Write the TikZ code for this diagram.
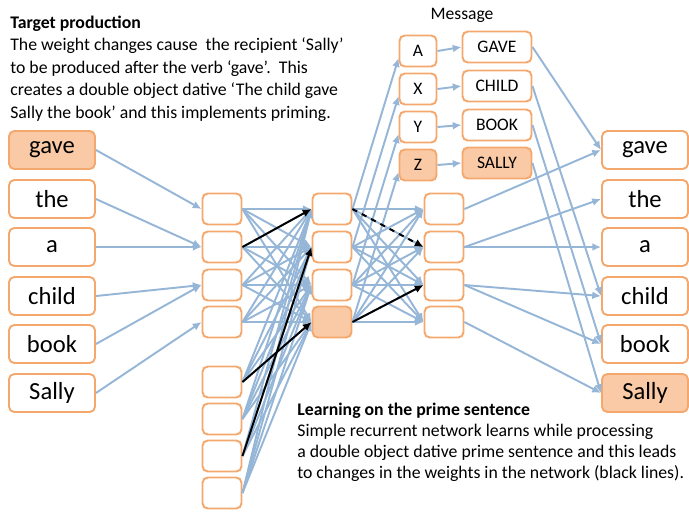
\documentclass[tikz,border=0pt]{standalone}
\usepackage{fontspec}
\setmainfont{Carlito}
\usepackage{xcolor}
\usetikzlibrary{arrows.meta, positioning}

\definecolor{boxline}{RGB}{245,168,110}
\definecolor{boxfill}{RGB}{250,201,165}
\definecolor{linkblue}{RGB}{150,182,215}

\begin{document}
\begin{tikzpicture}[x=0.02cm, y=-0.02cm,
        unit/.style={rectangle, draw=boxline, line width=1.1pt, rounded corners=3pt, fill=white, inner sep=0pt},
        word/.style={unit, minimum width=1.72cm, minimum height=0.76cm, font=\fontsize{14}{14}\selectfont},
        hid/.style={unit, minimum width=0.78cm, minimum height=0.62cm},
        msg/.style={unit, minimum height=0.62cm, font=\fontsize{10}{10}\selectfont},
        on/.style={fill=boxfill},
        note/.style={align=left, anchor=base west, inner sep=0pt},
        link/.style={draw=linkblue, line width=1.1pt, -{Latex[length=5pt,width=4.5pt]}},
        wlink/.style={black, line width=1.1pt, -{Latex[length=5pt,width=4.5pt]}}]

    \useasboundingbox (0,0) rectangle (689,512);

    % input words
    \node[word, on] (in1) at (52,150) {gave};
    \node[word] (in2) at (52,199) {the};
    \node[word] (in3) at (52,247) {a};
    \node[word] (in4) at (52,296) {child};
    \node[word] (in5) at (52,344) {book};
    \node[word] (in6) at (52,393) {Sally};

    % output words
    \node[word] (out1) at (645,150) {gave};
    \node[word] (out2) at (645,199) {the};
    \node[word] (out3) at (645,247) {a};
    \node[word] (out4) at (645,296) {child};
    \node[word] (out5) at (645,344) {book};
    \node[word, on] (out6) at (645,393) {Sally};

    % hidden layers and context
    \foreach \i/\y/\c in {1/209/white, 2/247/white, 3/285/white, 4/322/boxfill} {
        \node[hid] (ha\i) at (222,\y) {};
        \node[hid, fill=\c] (hb\i) at (332,\y) {};
        \node[hid] (hc\i) at (444,\y) {};
    }
    \foreach \i/\y in {1/382, 2/419, 3/456, 4/493}
        \node[hid] (ctx\i) at (222,\y) {};

    % message
    \node[font=\fontsize{10}{10}\selectfont] (msglabel) at (462,15) {Message};
    \node[msg, minimum width=0.74cm] (m1) at (418,51) {A};
    \node[msg, minimum width=0.74cm] (m2) at (418,89) {X};
    \node[msg, minimum width=0.74cm] (m3) at (418,127) {Y};
    \node[msg, minimum width=0.74cm, on] (m4) at (418,165) {Z};
    \node[msg, minimum width=1.38cm] (mw1) at (497,47) {GAVE};
    \node[msg, minimum width=1.38cm] (mw2) at (497,86) {CHILD};
    \node[msg, minimum width=1.38cm] (mw3) at (497,125) {BOOK};
    \node[msg, minimum width=1.38cm, on] (mw4) at (497,163) {SALLY};

    % connections
    \draw[link] (in1.east) -- (ha1.west);
    \draw[link] (in2.east) -- (ha2.west);
    \draw[link] (in3.east) -- (ha2.west);
    \draw[link] (in4.east) -- (ha3.west);
    \draw[link] (in5.east) -- (ha3.west);
    \draw[link] (in6.east) -- (ha4.west);

    \foreach \i in {1,...,4}
        \foreach \j in {1,...,4} {
            \draw[link] (ha\i.east) -- (hb\j.west);
            \draw[link] (ctx\i.east) -- (hb\j.west);
            \draw[link] (hb\i.east) -- (hc\j.west);
        }

    \foreach \i in {1,...,4} {
        \draw[link] (hb\i.east) -- (m\i.200);
        \draw[link] (m\i.east) -- (mw\i.west);
    }

    \draw[link] (mw1.east) -- (out1.west);
    \draw[link] (mw2.east) -- (out4.west);
    \draw[link] (mw3.east) -- (out5.west);
    \draw[link] (mw4.east) -- (out6.west);

    \draw[link] (hc1.east) -- (out1.west);
    \draw[link] (hc2.east) -- (out2.west);
    \draw[link] (hc2.east) -- (out3.west);
    \draw[link] (hc3.east) -- (out4.west);
    \draw[link] (hc3.east) -- (out5.west);
    \draw[link] (hc4.east) -- (out6.west);

    % changed weights
    \draw[wlink] (ha2.east) -- (hb1.west);
    \draw[wlink] (ctx1.east) -- (hb4.west);
    \draw[wlink] (ctx3.east) -- (hb2.west);
    \draw[wlink, dashed] (hb1.east) -- (hc2.west);
    \draw[wlink] (hb4.east) -- (hc3.west);

    % notes (base = last line)
    \node[note, font=\fontsize{10.1}{12.8}\selectfont] (target) at (10,118) {
        \textbf{Target production}\\
        The weight changes cause\ \ the recipient ‘Sally’\\
        to be produced after the verb ‘gave’.\ \ This\\
        creates a double object dative ‘The child gave\\
        Sally the book’ and this implements priming.
    };
    \node[note, font=\fontsize{10.1}{11.8}\selectfont] (learning) at (297,478) {
        \textbf{Learning on the prime sentence}\\
        Simple recurrent network learns while processing\\
        a double object dative prime sentence and this leads\\
        to changes in the weights in the network (black lines).
    };
\end{tikzpicture}
\end{document}
